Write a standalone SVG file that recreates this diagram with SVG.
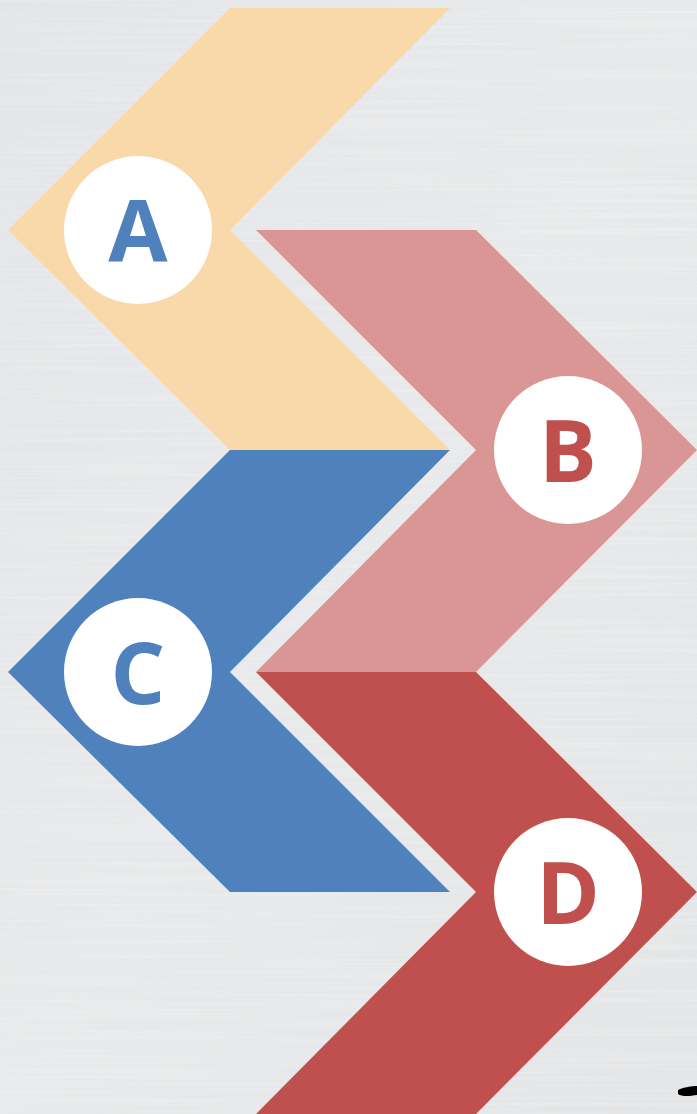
<svg xmlns="http://www.w3.org/2000/svg" width="697" height="1114" viewBox="0 0 697 1114">
  <defs>
    <style>
      .circle { fill: #FFFFFF; }
      .lbl { font-family: "Open Sans", "Liberation Sans", sans-serif; font-weight: 700; font-size: 86px; text-anchor: middle; }
      .blue { fill: #4F81BD; }
      .red { fill: #C0504D; }
    </style>
    <linearGradient id="bg" x1="0" y1="0" x2="1" y2="1">
      <stop offset="0" stop-color="#E3E5E6"/>
      <stop offset="0.5" stop-color="#E8E9EA"/>
      <stop offset="1" stop-color="#E4E5E6"/>
    </linearGradient>
    <filter id="brush" x="0" y="0" width="100%" height="100%">
      <feTurbulence type="fractalNoise" baseFrequency="0.004 0.35" numOctaves="2" seed="4" result="n"/>
      <feColorMatrix type="matrix" values="0 0 0 0 1  0 0 0 0 1  0 0 0 0 1  0.9 0 0 0 -0.35"/>
    </filter>
  </defs>
  <rect width="697" height="1114" fill="url(#bg)"/>
  <rect width="697" height="1114" filter="url(#brush)" opacity="0.5"/>

  <g id="node-A">
    <polygon points="230,8 450,8 230,230 450,450 230,450 8,230" fill="#F9D9AA"/>
    <circle class="circle" cx="138" cy="230" r="74"/>
    <text class="lbl blue" x="138" y="262">A</text>
  </g>
  <g id="node-B">
    <polygon points="256,230 476,230 697,450 476,672 256,672 476,450" fill="#DA9694"/>
    <circle class="circle" cx="568" cy="450" r="74"/>
    <text class="lbl red" x="568" y="482">B</text>
  </g>
  <g id="node-C">
    <polygon points="230,450 450,450 230,672 450,892 230,892 8,672" fill="#4F81BD"/>
    <circle class="circle" cx="138" cy="672" r="74"/>
    <text class="lbl blue" x="138" y="704">C</text>
  </g>
  <g id="node-D">
    <polygon points="256,672 476,672 697,892 476,1114 256,1114 476,892" fill="#C0504D"/>
    <circle class="circle" cx="568" cy="892" r="74"/>
    <text class="lbl red" x="568" y="924">D</text>
  </g>
  <g id="connectors"></g>
  <path d="M678,1090 C684,1087 692,1086 697,1086 L697,1095 C690,1096 682,1097 678,1094 Z" fill="#000000"/>
</svg>
